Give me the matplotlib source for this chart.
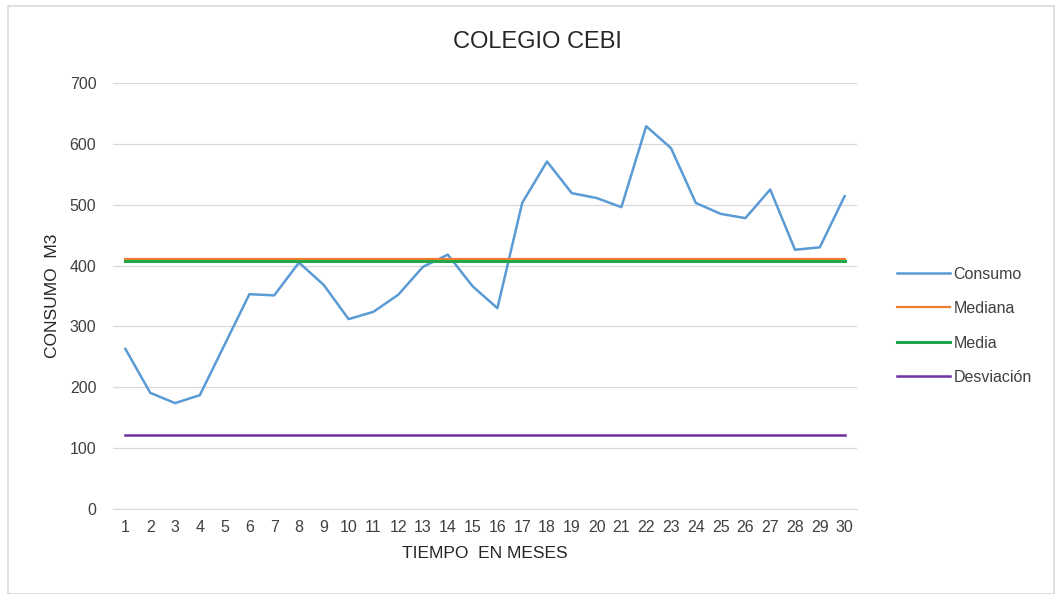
import matplotlib
matplotlib.use("Agg")
import matplotlib.pyplot as plt
from matplotlib.patches import Rectangle

meses = list(range(1, 31))
consumo = [263, 191, 174, 187, 270, 353, 351, 405, 368, 312,
           324, 352, 398, 418, 366, 330, 503, 571, 519, 511,
           496, 629, 593, 503, 485, 478, 525, 426, 430, 514]
mediana = [410] * 30
media = [408] * 30
desviacion = [121] * 30

plt.rcParams['font.family'] = ['Liberation Sans', 'DejaVu Sans']

fig = plt.figure(figsize=(10.56, 5.94), dpi=100)
fig.patches.append(Rectangle((8/1056, 0.0), 1 - 8/1056 - 0.002, 1 - 6/594,
                             transform=fig.transFigure, fill=False,
                             edgecolor='#D9D9D9', linewidth=1.2))
ax = fig.add_axes([113/1056, 1 - 509/594, (857 - 113)/1056, (509 - 83)/594])

ax.plot(meses, consumo, color='#5B9BD5', lw=1.8, label='Consumo')
ax.plot(meses, mediana, color='#ED7D31', lw=1.6, label='Mediana')
ax.plot(meses, media, color='#21A64A', lw=2.2, label='Media')
ax.plot(meses, desviacion, color='#7030A0', lw=1.8, label='Desviación')

ax.set_xlim(0.5, 30.5)
ax.set_ylim(0, 700)
ax.set_yticks(range(0, 701, 100))
ax.set_xticks(meses)
ax.grid(axis='y', color='#D9D9D9', lw=0.9)
ax.set_axisbelow(True)
for s in ['top', 'right', 'left']:
    ax.spines[s].set_visible(False)
ax.spines['bottom'].set_color('#D9D9D9')
ax.tick_params(axis='both', length=0, labelsize=11.5, colors='#404040', pad=8)
ax.tick_params(axis='y', pad=12)

fig.text(537/1056, 1 - 42/594, 'COLEGIO CEBI', fontsize=17, color='#262626',
         ha='center', va='center')
ax.set_xlabel('TIEMPO  EN MESES', fontsize=12.5, color='#262626', labelpad=8)
ax.set_ylabel('CONSUMO  M3', fontsize=12.5, color='#262626', labelpad=7)

leg = ax.legend(loc='center left', bbox_to_anchor=(1.035, 0.43), frameon=False,
                fontsize=11.5, handlelength=3.3, labelspacing=1.22, handletextpad=0.2)
for t in leg.get_texts():
    t.set_color('#404040')

fig.savefig('out.png', dpi=100, facecolor='white')
